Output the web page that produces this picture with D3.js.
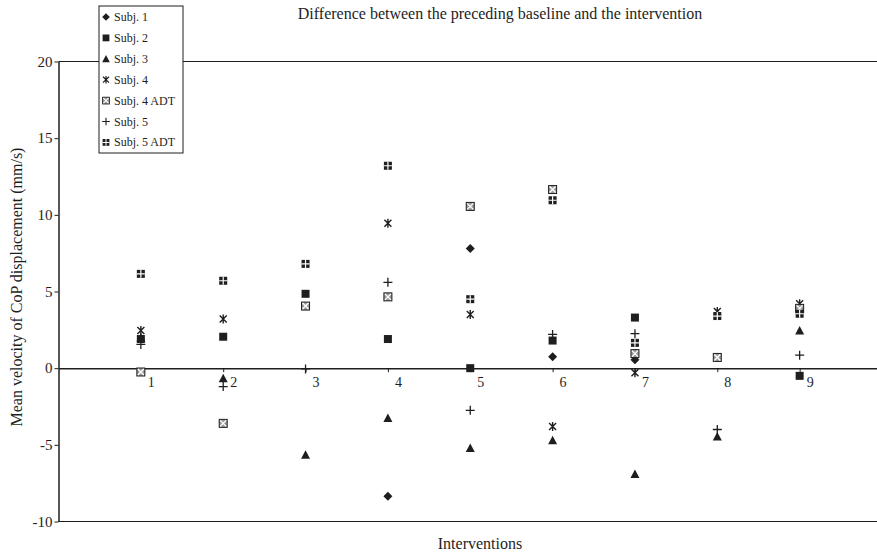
<!DOCTYPE html>
<html>
<head>
<meta charset="utf-8">
<script src="https://cdn.jsdelivr.net/npm/d3@7"></script>
<style>
  body { margin: 0; background: #fff; }
  svg { font-family: "Liberation Serif", "Times New Roman", serif; }
</style>
</head>
<body>
<svg id="chart" width="877" height="558"></svg>
<script>
// values (null = not visible)
const categories = [1, 2, 3, 4, 5, 6, 7, 8, 9];
const subj1    = [null, null, null, -8.35, 7.8, 0.75, 0.55, null, null];
const subj2    = [1.9, 2.05, 4.85, 1.9, 0.0, 1.8, 3.3, null, -0.5];
const subj3    = [2.0, -0.65, -5.65, -3.25, -5.2, -4.7, -6.9, -4.45, 2.45];
const subj4    = [2.45, 3.2, null, 9.45, 3.5, -3.8, -0.3, 3.7, 4.2];
const subj4adt = [-0.25, -3.6, 4.05, 4.65, 10.55, 11.65, 0.95, 0.7, 3.9];
const subj5    = [1.55, -1.2, -0.05, 5.6, -2.75, 2.2, 2.25, -4.0, 0.85];
const subj5adt = [6.15, 5.7, 6.8, 13.2, 4.5, 10.95, 1.65, 3.4, 3.55];
const yTicks = [-10, -5, 0, 5, 10, 15, 20];

const series = [
  { name: 'Subj. 1', marker: 'diamond', values: subj1 },
  { name: 'Subj. 2', marker: 'square', values: subj2 },
  { name: 'Subj. 3', marker: 'triangle', values: subj3 },
  { name: 'Subj. 4', marker: 'star', values: subj4 },
  { name: 'Subj. 4 ADT', marker: 'xbox', values: subj4adt },
  { name: 'Subj. 5', marker: 'plus', values: subj5 },
  { name: 'Subj. 5 ADT', marker: 'plusbox', values: subj5adt }
];

const ink = '#1e1e1e';
const serif = '"Liberation Serif", "Times New Roman", serif';
const svg = d3.select('#chart');

const x = d3.scaleLinear().domain([0, 10]).range([58.5, 882]);
const y = d3.scaleLinear().domain([-10, 20]).range([521.5, 61.5]);

//draws one marker centred on 0,0
function marker(g, type) {
  if (type === 'diamond') {
    g.append('path').attr('d', 'M0,-4.5L4.5,0L0,4.5L-4.5,0Z').attr('fill', ink);
  } else if (type === 'square') {
    g.append('rect').attr('x', -4).attr('y', -4).attr('width', 8).attr('height', 8).attr('fill', ink);
  } else if (type === 'triangle') {
    g.append('path').attr('d', 'M0,-4.5L4.5,4L-4.5,4Z').attr('fill', ink);
  } else if (type === 'star') {
    g.append('path').attr('d', 'M-3.5,-3.5L3.5,3.5M3.5,-3.5L-3.5,3.5M0,-4.5L0,4.5')
      .attr('stroke', ink).attr('stroke-width', 1.4).attr('fill', 'none');
  } else if (type === 'xbox') {
    g.append('rect').attr('x', -4).attr('y', -4).attr('width', 8).attr('height', 8)
      .attr('fill', '#9a9a9a').attr('stroke', ink).attr('stroke-width', 1);
    g.append('path').attr('d', 'M-3,-3L3,3M3,-3L-3,3')
      .attr('stroke', '#fff').attr('stroke-width', 1.3);
  } else if (type === 'plus') {
    g.append('path').attr('d', 'M-4.5,0L4.5,0M0,-4.5L0,4.5')
      .attr('stroke', ink).attr('stroke-width', 1.3);
  } else if (type === 'plusbox') {
    g.append('rect').attr('x', -4).attr('y', -4).attr('width', 8).attr('height', 8).attr('fill', ink);
    g.append('path').attr('d', 'M-4,0L4,0M0,-4L0,4')
      .attr('stroke', '#fff').attr('stroke-width', 1.2);
  }
}

//plot border lines at top and bottom
svg.append('line')
  .attr('x1', x(0)).attr('x2', 877)
  .attr('y1', y(20)).attr('y2', y(20))
  .attr('stroke', ink).attr('stroke-width', 1.2);
svg.append('line')
  .attr('x1', x(0)).attr('x2', 877)
  .attr('y1', y(-10)).attr('y2', y(-10))
  .attr('stroke', ink).attr('stroke-width', 1.2);

//y axis
const yAxis = svg.append('g')
  .attr('transform', `translate(${x(0)},0)`)
  .call(d3.axisLeft(y).tickValues(yTicks).tickSize(4).tickSizeOuter(0).tickFormat(d => String(d)))
  .attr('font-family', serif);
yAxis.select('.domain').attr('stroke', ink).attr('stroke-width', 1.5);
yAxis.selectAll('.tick line').attr('stroke', ink);
yAxis.selectAll('.tick text')
  .attr('fill', ink)
  .style('font-size', '15px')
  .attr('x', -6);

//x axis on the zero line
const xAxis = svg.append('g')
  .attr('transform', `translate(0,${y(0)})`)
  .call(d3.axisBottom(x).tickValues(categories).tickSize(4).tickSizeOuter(0))
  .attr('font-family', serif);
xAxis.select('.domain').attr('stroke', ink).attr('stroke-width', 1.5);
xAxis.selectAll('.tick line').attr('stroke', ink);
xAxis.selectAll('.tick text')
  .attr('fill', ink)
  .style('font-size', '14px')
  .attr('x', 10)
  .attr('y', 19)
  .attr('dy', 0);

//points
series.forEach(s => {
  s.values.forEach((v, i) => {
    if (v === null) return;
    const g = svg.append('g')
      .attr('transform', `translate(${x(categories[i])},${y(v)})`);
    marker(g, s.marker);
  });
});

//legend
const legend = svg.append('g');
legend.append('rect')
  .attr('x', 99).attr('y', 6).attr('width', 84).attr('height', 147)
  .attr('fill', '#fff').attr('stroke', ink).attr('stroke-width', 1);
series.forEach((s, i) => {
  const row = legend.append('g').attr('transform', `translate(106,${17 + i * 20.9})`);
  const m = row.append('g').attr('transform', 'scale(0.85)');
  marker(m, s.marker);
  row.append('text')
    .attr('x', 8).attr('y', 4)
    .style('font-size', '12px')
    .attr('fill', ink)
    .text(s.name);
});

//title
svg.append('text')
  .attr('x', 500).attr('y', 19)
  .attr('text-anchor', 'middle')
  .style('font-size', '16px')
  .attr('fill', ink)
  .text('Difference between the preceding baseline and the intervention');

//x label
svg.append('text')
  .attr('x', 480).attr('y', 549)
  .attr('text-anchor', 'middle')
  .style('font-size', '16px')
  .attr('fill', ink)
  .text('Interventions');

//y label
svg.append('text')
  .attr('transform', 'translate(22,287) rotate(-90)')
  .attr('text-anchor', 'middle')
  .style('font-size', '16px')
  .attr('fill', ink)
  .text('Mean velocity of CoP displacement (mm/s)');
</script>
</body>
</html>
